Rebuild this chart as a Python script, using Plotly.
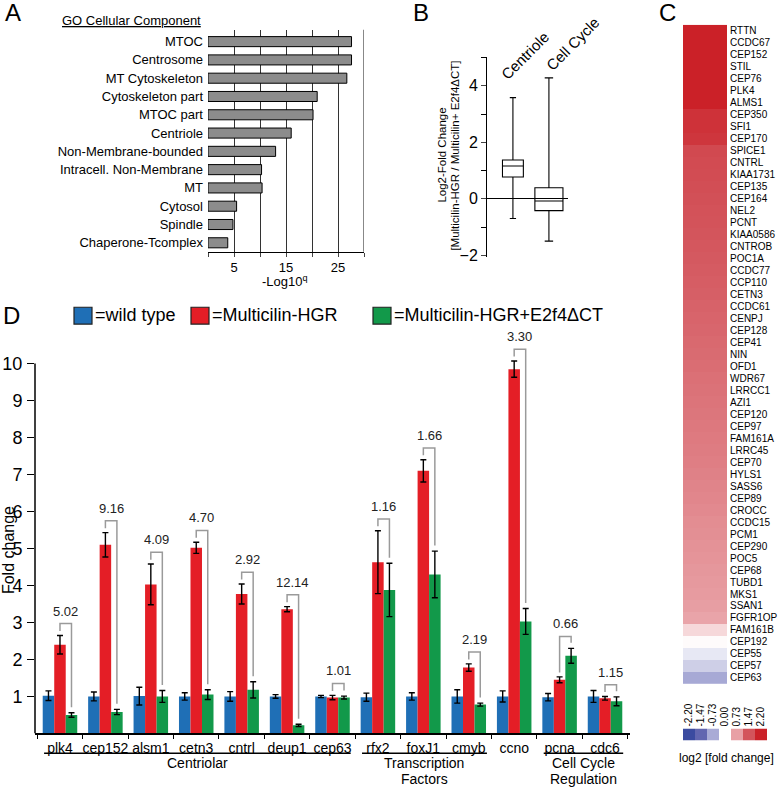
import plotly.graph_objects as go

W, H = 780, 791
FONT = "Arial, Liberation Sans, sans-serif"

# ---- panel A: GO cellular component enrichment ----
go_terms = ["MTOC", "Centrosome", "MT Cytoskeleton", "Cytoskeleton part", "MTOC part",
            "Centriole", "Non-Membrane-bounded", "Intracell. Non-Membrane", "MT",
            "Cytosol", "Spindle", "Chaperone-Tcomplex"]
go_logq = [27.6, 27.6, 26.7, 21.0, 20.2, 16.0, 13.0, 10.3, 10.4, 5.5, 4.8, 3.8]

# ---- panel B: box summary ----
box_names = ["Centriole", "Cell Cycle"]
box_q1 = [0.77, -0.42]
box_median = [1.16, -0.08]
box_q3 = [1.37, 0.39]
box_low = [-0.70, -1.50]
box_high = [3.58, 4.28]

# ---- panel C: heatmap ----
heat_genes = ["RTTN", "CCDC67", "CEP152", "STIL", "CEP76", "PLK4", "ALMS1", "CEP350", "SFI1",
              "CEP170", "SPICE1", "CNTRL", "KIAA1731", "CEP135", "CEP164", "NEL2", "PCNT",
              "KIAA0586", "CNTROB", "POC1A", "CCDC77", "CCP110", "CETN3", "CCDC61", "CENPJ",
              "CEP128", "CEP41", "NIN", "OFD1", "WDR67", "LRRCC1", "AZI1", "CEP120", "CEP97",
              "FAM161A", "LRRC45", "CEP70", "HYLS1", "SASS6", "CEP89", "CROCC", "CCDC15",
              "PCM1", "CEP290", "POC5", "CEP68", "TUBD1", "MKS1", "SSAN1", "FGFR1OP",
              "FAM161B", "CEP192", "CEP55", "CEP57", "CEP63"]
heat_vals = [2.2, 2.2, 2.2, 2.2, 2.2, 2.2, 2.2, 1.95, 1.95, 1.9, 1.62, 1.6, 1.58, 1.55, 1.53,
             1.5, 1.48, 1.46, 1.44, 1.42, 1.4, 1.38, 1.36, 1.33, 1.31, 1.29, 1.27, 1.25, 1.23,
             1.2, 1.18, 1.16, 1.14, 1.12, 1.1, 1.08, 1.06, 1.03, 1.0, 0.98, 0.95, 0.92, 0.9,
             0.87, 0.85, 0.82, 0.8, 0.78, 0.75, 0.7, 0.3, 0.03, -0.2, -0.42, -0.75]
key_vals = [-2.20, -1.47, -0.73, 0.00, 0.73, 1.47, 2.20]
key_labels = ["-2.20", "-1.47", "-0.73", "0.00", "0.73", "1.47", "2.20"]

# ---- panel D: qPCR fold change ----
genes = ["plk4", "cep152", "alsm1", "cetn3", "cntrl", "deup1", "cep63",
         "rfx2", "foxJ1", "cmyb", "ccno", "pcna", "cdc6"]
wt = [1.02, 1.0, 1.01, 1.0, 1.0, 1.0, 1.0, 0.98, 1.0, 1.0, 1.0, 0.98, 1.0]
wt_err = [0.13, 0.12, 0.24, 0.1, 0.13, 0.05, 0.03, 0.11, 0.1, 0.18, 0.15, 0.1, 0.16]
mcc = [2.4, 5.1, 4.03, 5.02, 3.77, 3.36, 0.97, 4.63, 7.1, 1.78, 9.85, 1.45, 0.95]
mcc_err = [0.25, 0.33, 0.55, 0.15, 0.27, 0.07, 0.06, 0.85, 0.3, 0.1, 0.22, 0.08, 0.05]
e2f = [0.5, 0.58, 1.0, 1.05, 1.18, 0.22, 0.97, 3.88, 4.3, 0.78, 3.03, 2.1, 0.87]
e2f_err = [0.06, 0.07, 0.16, 0.13, 0.22, 0.03, 0.04, 0.72, 0.63, 0.04, 0.35, 0.2, 0.12]
ratios = ["5.02", "9.16", "4.09", "4.70", "2.92", "12.14", "1.01",
          "1.16", "1.66", "2.19", "3.30", "0.66", "1.15"]
groups = [(["Centriolar"], 0, 6), (["Transcription", "Factors"], 7, 9),
          (["Cell Cycle", "Regulation"], 11, 12)]

BLUE, RED, GREEN = "#1f6fb6", "#e41e26", "#12994a"


def px(x):
    return x / W


def py(y):
    return 1 - y / H


fig = go.Figure()

# A
fig.add_trace(go.Bar(x=go_logq, y=go_terms, orientation="h", width=0.55,
                     marker=dict(color="#8c8c8c", line=dict(color="black", width=1)),
                     xaxis="x", yaxis="y"))

# B
box_w = [0.58, 0.78]
for i in range(2):
    fig.add_trace(go.Box(x=[i], q1=[box_q1[i]], median=[box_median[i]], q3=[box_q3[i]],
                         lowerfence=[box_low[i]], upperfence=[box_high[i]],
                         width=box_w[i], whiskerwidth=0.3, boxpoints=False,
                         fillcolor="rgba(255,255,255,0)", line=dict(color="black", width=1.1),
                         xaxis="x2", yaxis="y2"))

# C
cscale = [[0.0, "#3b4ba0"], [0.166, "#6266b0"], [0.334, "#a9abd6"], [0.5, "#ffffff"],
          [0.666, "#e8a0a5"], [0.834, "#d3545b"], [1.0, "#cb2128"]]
fig.add_trace(go.Heatmap(z=[[v] for v in heat_vals], x=[0], y=heat_genes, colorscale=cscale,
                         zmin=-2.2, zmax=2.2, showscale=False, xaxis="x3", yaxis="y3"))
fig.add_trace(go.Heatmap(z=[key_vals], x=key_labels, y=[0], colorscale=cscale,
                         zmin=-2.2, zmax=2.2, showscale=False, xaxis="x4", yaxis="y4"))

# D
xs = list(range(len(genes)))
bargap = 0.24
bw = (1 - bargap) / 3
for vals, errs, col in [(wt, wt_err, BLUE), (mcc, mcc_err, RED), (e2f, e2f_err, GREEN)]:
    fig.add_trace(go.Bar(x=xs, y=vals, marker=dict(color=col, line=dict(width=0)),
                         error_y=dict(type="data", array=errs, color="black", thickness=1.4, width=3),
                         xaxis="x5", yaxis="y5"))

annotations = []
for i, g in enumerate(genes):
    red_top = mcc[i] + mcc_err[i]
    green_top = e2f[i] + e2f_err[i]
    top = max(red_top, green_top) + 0.32
    fig.add_trace(go.Scatter(x=[i, i, i + bw, i + bw],
                             y=[red_top + 0.12, top, top, green_top + 0.15],
                             mode="lines", line=dict(color="#9a9a9a", width=1.5),
                             xaxis="x5", yaxis="y5", hoverinfo="skip"))
    annotations.append(dict(x=i + bw / 2, y=top + 0.34, xref="x5", yref="y5", text=ratios[i],
                            font=dict(size=13, color="#222")))

layout_axes = dict(
    xaxis=dict(domain=[px(208), px(364)], range=[0, 30], tickmode="array",
               tickvals=[0, 5, 10, 15, 20, 25, 30], ticktext=["", "5", "", "15", "", "25", ""],
               showgrid=True, gridcolor="#333", gridwidth=1, zeroline=False,
               showline=True, linecolor="black", ticks="outside", ticklen=4,
               tickfont=dict(size=13), anchor="y"),
    yaxis=dict(domain=[py(254), py(30)], range=[11.49, -0.65], showgrid=False,
               ticks="", tickfont=dict(size=13), anchor="x", ticklabelstandoff=4),
    xaxis2=dict(domain=[px(487), px(568)], range=[-0.72, 1.53], visible=False, anchor="y2"),
    yaxis2=dict(domain=[py(259), py(58)], range=[-2.05, 5.0], tickvals=[-2, 0, 2, 4],
                showgrid=False, zeroline=True, zerolinecolor="black", zerolinewidth=1,
                showline=True, linecolor="black", ticks="outside", ticklen=5,
                minor=dict(dtick=1, tick0=0, ticks="outside", ticklen=5, tickcolor="black"),
                tickfont=dict(size=16), anchor="x2"),
    xaxis3=dict(domain=[px(683), px(727)], visible=False, anchor="y3"),
    yaxis3=dict(domain=[py(690), py(25)], range=[54.5, -0.5], side="right", ticks="",
                tickmode="array", tickvals=heat_genes, ticktext=heat_genes,
                showgrid=False, tickfont=dict(size=10), anchor="x3", ticklabelstandoff=2),
    xaxis4=dict(domain=[px(683), px(767)], side="top", tickangle=-90, ticks="",
                tickmode="array", tickvals=key_labels, ticktext=key_labels,
                tickfont=dict(size=10), showgrid=False, anchor="y4", ticklabelstandoff=1),
    yaxis4=dict(domain=[py(747), py(735)], visible=False, anchor="x4"),
    xaxis5=dict(domain=[px(35), px(630)], range=[-0.55, 12.55], tickmode="array",
                tickvals=xs, ticktext=genes, tickangle=0, ticks="", showgrid=False,
                zeroline=False, showline=True, linecolor="black", linewidth=1.5,
                tickfont=dict(size=14),
                minor=dict(tick0=0.5, dtick=1, ticks="outside", ticklen=4, tickcolor="black"),
                anchor="y5", ticklabelstandoff=1),
    yaxis5=dict(domain=[py(740), py(337)], range=[0, 10.8], tickvals=list(range(1, 11)),
                showgrid=False, zeroline=False, showline=False, ticks="outside", ticklen=7,
                tickcolor="black", tickfont=dict(size=18), anchor="x5", ticklabelstandoff=1),
)

shapes = [
    dict(type="line", xref="x", yref="paper", x0=30, x1=30, y0=py(254), y1=py(30),
         line=dict(color="#888", width=2)),
    dict(type="line", xref="paper", yref="y5", x0=px(35), x1=px(35), y0=0, y1=10,
         line=dict(color="black", width=1.5)),
]

# group underlines and labels in D
for lines, a, b in groups:
    x0 = a - 0.35
    x1 = b + 0.4
    shapes.append(dict(type="line", xref="x5", yref="paper", x0=x0, x1=x1,
                       y0=py(760), y1=py(760), line=dict(color="black", width=1.3)))
    for k, line in enumerate(lines):
        annotations.append(dict(x=(x0 + x1) / 2, y=py(770 + 16 * k), xref="x5", yref="paper",
                                text=line, font=dict(size=14)))

# legend of D
legend_items = [("=wild type", BLUE, 74), ("=Multicilin-HGR", RED, 191),
                ("=Multicilin-HGR+E2f4ΔCT", GREEN, 373)]
for label, col, x in legend_items:
    shapes.append(dict(type="rect", xref="paper", yref="paper", x0=px(x), x1=px(x + 18),
                       y0=py(327), y1=py(310), fillcolor=col, line=dict(color="#222", width=1.2)))
    annotations.append(dict(x=px(x + 19), y=py(318), text=label, xanchor="left",
                            font=dict(size=18)))

# panel letters and free text
annotations += [
    dict(x=px(13), y=py(13), text="A", font=dict(size=24)),
    dict(x=px(421), y=py(13), text="B", font=dict(size=24)),
    dict(x=px(667), y=py(13), text="C", font=dict(size=24)),
    dict(x=px(11), y=py(318), text="D", font=dict(size=24)),
    dict(x=px(203), y=py(21), text="<u>GO Cellular Component</u>", xanchor="right",
         font=dict(size=13)),
    dict(x=px(285), y=py(284), text="-Log10<sup>q</sup>", font=dict(size=13)),
    dict(x=px(442), y=py(157), text="Log2-Fold Change", textangle=-90, font=dict(size=11.5)),
    dict(x=px(455), y=py(157), text="[Multicilin-HGR / Multicilin+ E2f4ΔCT]", textangle=-90,
         font=dict(size=11.5)),
    dict(x=px(525), y=py(56), text="Centriole", textangle=-45, font=dict(size=15)),
    dict(x=px(573), y=py(44), text="Cell Cycle", textangle=-45, font=dict(size=15)),
    dict(x=px(8), y=py(555), text="Fold change", textangle=-90, font=dict(size=16)),
    dict(x=px(726), y=py(765), text="log2 [fold change]", font=dict(size=12)),
]
for a in annotations:
    a.setdefault("xref", "paper")
    a.setdefault("yref", "paper")
    a.setdefault("xanchor", "center")
    a.setdefault("yanchor", "middle")
    a.setdefault("showarrow", False)

fig.update_layout(
    width=W, height=H, margin=dict(l=0, r=0, t=0, b=0),
    paper_bgcolor="white", plot_bgcolor="white",
    font=dict(family=FONT, color="black"),
    showlegend=False, barmode="group", bargap=bargap, bargroupgap=0,
    shapes=shapes, annotations=annotations, **layout_axes,
)

# the page's default body margin would shift the figure by 8px
fig.write_html("out.html", config={"displayModeBar": False},
               post_script="document.body.style.margin='0px';")
